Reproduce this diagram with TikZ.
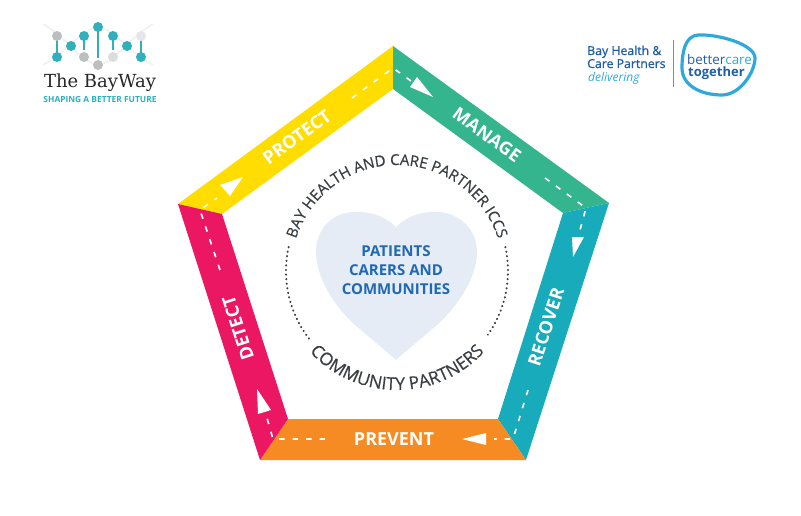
\documentclass[tikz,border=0pt]{standalone}
\usepackage{fontspec}
\setsansfont{Open Sans}
\newfontfamily\slabfont{DejaVu Serif}
\newfontfamily\semifont[FakeBold=1.1]{Open Sans}
\newfontfamily\ringfont[FakeBold=0.5]{Open Sans}
\usetikzlibrary{calc, decorations.text}
\definecolor{BandYellow}{HTML}{FFDD00}
\definecolor{BandGreen}{HTML}{35B58E}
\definecolor{BandTeal}{HTML}{17ABBB}
\definecolor{BandOrange}{HTML}{F68B23}
\definecolor{BandPink}{HTML}{EC1763}
\definecolor{HeartFill}{HTML}{E6ECF6}
\definecolor{HeartInk}{HTML}{1F69B3}
\definecolor{RingInk}{HTML}{3A3F44}
\definecolor{LogoTeal}{HTML}{2FB0BC}
\definecolor{LogoGrey}{HTML}{BDBEC0}
\definecolor{LogoFaint}{HTML}{EEF0F2}
\definecolor{LogoNavy}{HTML}{1F5FA8}
\definecolor{LogoSky}{HTML}{2FA9DC}

\begin{document}
\begin{tikzpicture}[
    x=1pt, y=-1pt,
    font=\sffamily,
    every node/.style={align=center},
    band/.style={font=\sffamily\bfseries\fontsize{18}{19}\selectfont, text=white, inner sep=1pt},
    flow/.style={draw=white, line width=1.6pt, dash pattern=on 5.5pt off 8pt},
    flowtip/.style={fill=white},
    heartline/.style={font=\sffamily\bfseries\fontsize{15}{16}\selectfont, text=HeartInk, inner sep=0pt},
    ringdots/.style={draw=RingInk, line width=2pt, line cap=round, dash pattern=on 0.4pt off 4.2pt},
    ringtext/.style 2 args={decorate, decoration={text along path, text align=center, text color=RingInk,
      text={|\ringfont\fontsize{#1}{#1}\selectfont|#2}}},
    strand/.style={draw=LogoFaint, line width=1.6pt},
    rung/.style={draw=LogoTeal, line width=1.2pt},
    beadT/.style={fill=LogoTeal},
    beadG/.style={fill=LogoGrey},
    navyline/.style={font=\semifont\fontsize{12.3}{13}\selectfont, text=LogoNavy, anchor=base west, inner sep=0pt},
  ]
    \useasboundingbox (0,0) rectangle (801,516);

    % outer and inner corners of the five bands
    \coordinate (oT) at (393,46);
    \coordinate (oR) at (609,203);
    \coordinate (oBR) at (526,460);
    \coordinate (oBL) at (260,460);
    \coordinate (oL) at (178,204);
    \coordinate (iT) at (393,89);
    \coordinate (iR) at (563,213);
    \coordinate (iBR) at (498,419);
    \coordinate (iBL) at (288,419);
    \coordinate (iL) at (222,214);

    \fill[BandYellow] (oL) -- (oT) -- (iT) -- (iL) -- cycle;
    \fill[BandGreen] (oT) -- (oR) -- (iR) -- (iT) -- cycle;
    \fill[BandTeal] (oR) -- (oBR) -- (iBR) -- (iR) -- cycle;
    \fill[BandOrange] (oBR) -- (oBL) -- (iBL) -- (iBR) -- cycle;
    \fill[BandPink] (oBL) -- (oL) -- (iL) -- (iBL) -- cycle;

    % dashed road with the turn at each corner
    \coordinate (cT) at (393,68);
    \coordinate (cR) at (586,208);
    \coordinate (cBR) at (513,439);
    \coordinate (cBL) at (273,439);
    \coordinate (cL) at (200,210);

    \draw[flow] (352,98) -- (cT) -- (411,81);
    \fill[flowtip] (417,77) -- (410,87) -- (433,97) -- cycle;
    \draw[flow] (545,178) -- (cR) -- (580,230);
    \fill[flowtip] (572,237) -- (584,237) -- (573,257) -- cycle;
    \draw[flow] (528,390) -- (cBR) -- (494,439);
    \fill[flowtip] (486,433) -- (486,445) -- (462,439) -- cycle;
    \draw[flow] (325,439) -- (cBL) -- (267,418);
    \fill[flowtip] (258,414) -- (271,410) -- (257,389) -- cycle;
    \draw[flow] (220,270) -- (cL) -- (217,198);
    \fill[flowtip] (220,185) -- (230,196) -- (243,177) -- cycle;

    \node[band, rotate=36] (protect) at (297,137) {PROTECT};
    \node[band, rotate=-36] (manage) at (487,135) {MANAGE};
    \node[band, rotate=72] (recover) at (546,327) {RECOVER};
    \node[band] (prevent) at (394,439) {PREVENT};
    \node[band, rotate=108] (detect) at (238,328) {DETECT};

    % heart
    \fill[HeartFill] (396,227) .. controls (385,216) and (370,211) .. (353,212)
      .. controls (331,213) and (316,230) .. (316,252)
      .. controls (316,278) and (335,307) .. (355,325)
      .. controls (370,338) and (385,350) .. (396,360)
      .. controls (407,350) and (422,338) .. (437,325)
      .. controls (457,307) and (477,278) .. (477,252)
      .. controls (477,230) and (460,213) .. (438,212)
      .. controls (422,211) and (407,216) .. (396,227) -- cycle;
    \node[heartline] (patients) at (396,251) {PATIENTS};
    \node[heartline] (carers) at (396,270) {CARERS AND};
    \node[heartline] (communities) at (396,289) {COMMUNITIES};

    % ring
    \coordinate (ring) at (397,271);
    \draw[ringdots] ($(ring)+(12.5:111pt)$) arc[start angle=12.5, end angle=-35, radius=111pt];
    \draw[ringdots] ($(ring)+(167.5:111pt)$) arc[start angle=167.5, end angle=218, radius=111pt];
    \path[ringtext={15}{BAY HEALTH AND CARE PARTNER ICCS}] ($(ring)+(180:106pt)$) arc[start angle=180, end angle=0, radius=106pt];
    \path[ringtext={17.5}{COMMUNITY PARTNERS}] ($(ring)+(180:119pt)$) arc[start angle=180, end angle=360, radius=119pt];

    % left logo
    \draw[strand] (43,24) .. controls (70,40) and (80,62) .. (98,65) .. controls (116,62) and (126,40) .. (153,24);
    \draw[strand] (43,65) .. controls (70,50) and (80,30) .. (98,27) .. controls (116,30) and (126,50) .. (153,65);
    \draw[rung] (57,36) -- (57,57);
    \draw[rung] (84,36) -- (84,50);
    \draw[rung] (98,27) -- (98,58);
    \draw[rung] (113,36) -- (113,50);
    \draw[rung] (141,40) -- (141,57);
    \fill[beadG] (57,36) circle[radius=5];
    \fill[beadT] (57,57) circle[radius=5];
    \fill[beadT] (71,46) circle[radius=5];
    \fill[beadT] (84,36) circle[radius=5];
    \fill[beadG] (84,57) circle[radius=5];
    \fill[beadT] (98,27) circle[radius=5];
    \fill[beadG] (98,65) circle[radius=5];
    \fill[beadT] (113,36) circle[radius=5];
    \fill[LogoFaint!60!LogoGrey] (113,57) circle[radius=5];
    \fill[beadT] (127,46) circle[radius=5];
    \fill[LogoFaint!80!LogoGrey] (141,36) circle[radius=5];
    \fill[beadT] (141,57) circle[radius=5];
    \node[font=\slabfont\fontsize{18}{19}\selectfont, text=black!85, inner sep=0pt] (bayway) at (100,83) {The BayWay};
    \node[font=\sffamily\bfseries\fontsize{8.4}{9}\selectfont, text=LogoTeal, inner sep=0pt] (shaping) at (100,100) {SHAPING A BETTER FUTURE};

    % right logo
    \node[navyline] (bayhealth) at (587,55) {Bay Health \&};
    \node[navyline] (carepartners) at (587,68) {Care Partners};
    \node[font=\sffamily\itshape\fontsize{12}{13}\selectfont, text=LogoSky, anchor=base west, inner sep=0pt] (delivering) at (588,82) {delivering};
    \coordinate (divtop) at (673,40);
    \coordinate (divbot) at (673,87);
    \draw[LogoSky, line width=0.9pt] (divtop) -- (divbot);
    \draw[LogoSky, line width=3.2pt] (698,35) .. controls (720,34) and (755,45) .. (755,58)
      .. controls (755,72) and (740,95) .. (722,95)
      .. controls (700,95) and (682,85) .. (682,68)
      .. controls (682,52) and (685,36) .. (698,35) -- cycle;
    \node[font=\sffamily\fontsize{13.4}{14}\selectfont, text=LogoNavy, anchor=base west, inner sep=0pt] (better) at (687,65) {better\textcolor{LogoSky}{care}};
    \node[font=\sffamily\bfseries\fontsize{13}{14}\selectfont, text=LogoNavy, anchor=base west, inner sep=0pt] (together) at (688,77) {together};
  \end{tikzpicture}
\end{document}
